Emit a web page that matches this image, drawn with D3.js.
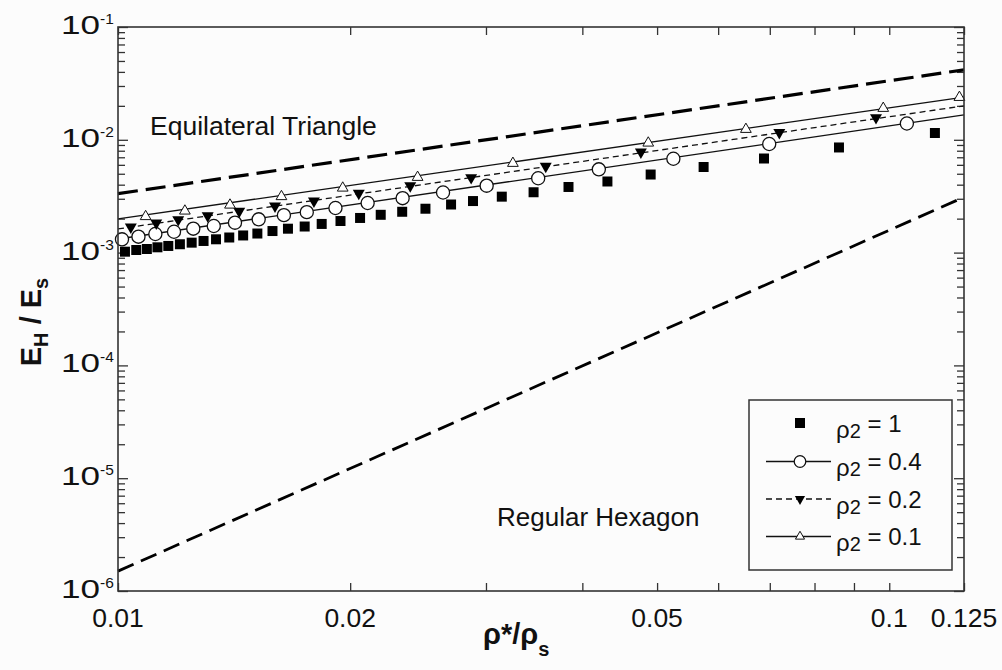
<!DOCTYPE html>
<html>
<head>
<meta charset="utf-8">
<script src="https://cdn.jsdelivr.net/npm/d3@7"></script>
<style>
body { margin: 0; background: #fcfcfc; }
svg { display: block; font-family: "Liberation Sans", Arial, sans-serif; }
</style>
</head>
<body>
<script>
// tick values and labels
var xTicks = [0.01, 0.02, 0.03, 0.04, 0.05, 0.06, 0.07, 0.08, 0.09, 0.1, 0.125],
xLabels = [0.01, 0.02, 0.05, 0.1, 0.125],
yDecades = [1e-6, 1e-5, 1e-4, 1e-3, 1e-2, 1e-1],
yExponents = ["-6", "-5", "-4", "-3", "-2", "-1"];

// bounding lines
var triX = [0.01, 0.125], triY = [0.00333, 0.0417];
var hexX = [0.01, 0.125], hexY = [1.5e-6, 0.0031];

// series lines
var line04X = [0.01, 0.125], line04Y = [0.00132, 0.0166];
var line02X = [0.01, 0.125], line02Y = [0.00162, 0.0200];
var line01X = [0.01, 0.125], line01Y = [0.00199, 0.0239];

// series markers
var rho1X = [0.01021,0.01056,0.01090,0.01125,0.01162,0.01203,0.01246,0.01291,0.01340,0.01394,0.01453,0.01516,0.01586,0.01661,0.01746,0.01837,0.01943,0.02060,0.02191,0.02336,0.02504,0.02703,0.02886,0.03145,0.03458,0.03838,0.04311,0.04905,0.05745,0.06880,0.08606,0.1146];
var rho1Y = [0.001019,0.001054,0.001076,0.001114,0.001145,0.001186,0.001225,0.001268,0.001312,0.001361,0.001419,0.001476,0.001553,0.001629,0.001703,0.001795,0.001905,0.002028,0.002163,0.002301,0.002449,0.002669,0.002864,0.003133,0.003428,0.003818,0.004270,0.004922,0.005738,0.006826,0.008551,0.01149];
var rho04X = [0.01012,0.01063,0.01118,0.01182,0.01252,0.01331,0.01418,0.01522,0.01641,0.01757,0.01914,0.02107,0.02339,0.02639,0.03006,0.03506,0.04202,0.05249,0.06988,0.1054];
var rho04Y = [0.001312,0.001384,0.001462,0.001531,0.001629,0.001722,0.001841,0.001973,0.002148,0.002283,0.002485,0.002754,0.003036,0.003409,0.003917,0.004560,0.005476,0.006790,0.009183,0.01395];
var rho02X = [0.01039,0.01121,0.01197,0.01307,0.01436,0.01598,0.01795,0.02052,0.02393,0.02870,0.03586,0.04764,0.07202,0.09612];
var rho02Y = [0.001686,0.001829,0.001959,0.002120,0.002323,0.002590,0.002866,0.003356,0.003908,0.004613,0.005821,0.007798,0.01161,0.01570];
var rho01X = [0.01086,0.01221,0.01397,0.01629,0.01956,0.02446,0.03251,0.04870,0.06518,0.09822,0.1233];
var rho01Y = [0.002089,0.002339,0.002642,0.003141,0.003739,0.004653,0.006194,0.009372,0.01239,0.01903,0.02380];

var legendLabels = ["1", "0.4", "0.2", "0.1"];

var margin = {top: 27, right: 38, bottom: 79, left: 118},
width = 1002 - margin.left - margin.right,
height = 670 - margin.top - margin.bottom;

var xScale = d3.scaleLog().domain([0.01, 0.125]).range([0, width]);
var yScale = d3.scaleLog().domain([1e-6, 1e-1]).range([height, 0]);

var svg = d3.select("body").append("svg")
    .attr("width", 1002)
    .attr("height", 670);

var g = svg.append("g")
    .attr("transform", "translate(" + margin.left + "," + margin.top + ")");

function zip(xs, ys) { return xs.map(function(d, i) { return [d, ys[i]]; }); }

var line = d3.line()
    .x(function(d) { return xScale(d[0]); })
    .y(function(d) { return yScale(d[1]); });

// axes with inward ticks
var yMinor = yScale.ticks().filter(function(d) { return yDecades.indexOf(d) < 0; });

function styleAxis(sel) {
    sel.select(".domain").remove();
    sel.selectAll("line").attr("stroke", "#333").attr("stroke-width", 1.3);
    sel.selectAll("text").remove();
}

g.append("g").attr("transform", "translate(0," + height + ")")
    .call(d3.axisBottom(xScale).tickValues(xTicks).tickSize(-8)).call(styleAxis);
g.append("g")
    .call(d3.axisTop(xScale).tickValues(xTicks).tickSize(-8)).call(styleAxis);
g.append("g")
    .call(d3.axisLeft(yScale).tickValues(yDecades).tickSize(-10)).call(styleAxis);
g.append("g")
    .call(d3.axisLeft(yScale).tickValues(yMinor).tickSize(-7)).call(styleAxis);
g.append("g").attr("transform", "translate(" + width + ",0)")
    .call(d3.axisRight(yScale).tickValues(yDecades).tickSize(-10)).call(styleAxis);
g.append("g").attr("transform", "translate(" + width + ",0)")
    .call(d3.axisRight(yScale).tickValues(yMinor).tickSize(-7)).call(styleAxis);

// x tick labels
g.selectAll(".xlab").data(xLabels).enter().append("text")
    .attr("x", function(d) { return xScale(d); })
    .attr("y", height + 36)
    .attr("text-anchor", "middle")
    .attr("font-size", 26.5)
    .attr("fill", "#111")
    .text(function(d) { return d; });

// y tick labels
var ylab = g.selectAll(".ylab").data(yDecades).enter().append("g")
    .attr("transform", function(d) { return "translate(-18," + yScale(d) + ")"; });
ylab.append("text")
    .attr("transform", "translate(0,7) scale(1.35,1)")
    .attr("text-anchor", "end")
    .attr("font-size", 26)
    .attr("fill", "#111")
    .text("10");
ylab.append("text")
    .attr("x", 0)
    .attr("y", -3)
    .attr("font-size", 15.5)
    .attr("fill", "#111")
    .text(function(d, i) { return yExponents[i]; });

// bounding lines
g.append("path").datum(zip(triX, triY))
    .attr("d", line).attr("fill", "none")
    .attr("stroke", "#000").attr("stroke-width", 3.2)
    .attr("stroke-dasharray", "20,8");
g.append("path").datum(zip(hexX, hexY))
    .attr("d", line).attr("fill", "none")
    .attr("stroke", "#000").attr("stroke-width", 2.8)
    .attr("stroke-dasharray", "17,8");

// series lines
g.append("path").datum(zip(line04X, line04Y))
    .attr("d", line).attr("fill", "none").attr("stroke", "#111").attr("stroke-width", 1.3);
g.append("path").datum(zip(line02X, line02Y))
    .attr("d", line).attr("fill", "none").attr("stroke", "#111").attr("stroke-width", 1.3)
    .attr("stroke-dasharray", "6,4");
g.append("path").datum(zip(line01X, line01Y))
    .attr("d", line).attr("fill", "none").attr("stroke", "#111").attr("stroke-width", 1.3);

// markers
var square = d3.symbol().type(d3.symbolSquare).size(100),
circle = d3.symbol().type(d3.symbolCircle).size(135),
triDown = d3.symbol().type(d3.symbolTriangle).size(62),
triUp = d3.symbol().type(d3.symbolTriangle).size(50);

g.selectAll(".sq").data(zip(rho1X, rho1Y)).enter().append("path")
    .attr("d", square)
    .attr("transform", function(d) { return "translate(" + xScale(d[0]) + "," + yScale(d[1]) + ")"; })
    .attr("fill", "#000");
g.selectAll(".ci").data(zip(rho04X, rho04Y)).enter().append("path")
    .attr("d", circle)
    .attr("transform", function(d) { return "translate(" + xScale(d[0]) + "," + yScale(d[1]) + ")"; })
    .attr("fill", "#fff").attr("stroke", "#111").attr("stroke-width", 1.3);
g.selectAll(".td").data(zip(rho02X, rho02Y)).enter().append("path")
    .attr("d", triDown)
    .attr("transform", function(d) { return "translate(" + xScale(d[0]) + "," + yScale(d[1]) + ") rotate(180)"; })
    .attr("fill", "#000");
g.selectAll(".tu").data(zip(rho01X, rho01Y)).enter().append("path")
    .attr("d", triUp)
    .attr("transform", function(d) { return "translate(" + xScale(d[0]) + "," + yScale(d[1]) + ")"; })
    .attr("fill", "#fff").attr("stroke", "#111").attr("stroke-width", 1);

// frame
g.append("rect")
    .attr("width", width).attr("height", height)
    .attr("fill", "none").attr("stroke", "#333").attr("stroke-width", 1.6);

// annotations
g.append("text").attr("x", 32).attr("y", 108)
    .attr("font-size", 26.5).attr("fill", "#111").text("Equilateral Triangle");
g.append("text").attr("x", 379).attr("y", 499)
    .attr("font-size", 26).attr("fill", "#111").text("Regular Hexagon");

// axis titles
var xt = svg.append("text")
    .attr("x", 483).attr("y", 644)
    .attr("font-size", 29).attr("font-weight", "bold").attr("fill", "#111");
xt.append("tspan").text("ρ*/ρ");
xt.append("tspan").attr("font-size", 20).attr("dy", 12).text("s");

var yt = svg.append("text")
    .attr("transform", "translate(41,322) rotate(-90)")
    .attr("text-anchor", "middle")
    .attr("font-size", 29).attr("font-weight", "bold").attr("fill", "#111");
yt.append("tspan").text("E");
yt.append("tspan").attr("font-size", 20).attr("dy", 7).text("H");
yt.append("tspan").attr("dy", -7).text(" / E");
yt.append("tspan").attr("font-size", 20).attr("dy", 7).text("s");

// legend
var lg = svg.append("g");
lg.append("rect")
    .attr("x", 749).attr("y", 400).attr("width", 203).attr("height", 170)
    .attr("fill", "#fcfcfc").attr("stroke", "#333").attr("stroke-width", 1.5);

var rowY = [423, 461.5, 499, 536.5];
var lgSquare = d3.symbol().type(d3.symbolSquare).size(100),
lgCircle = d3.symbol().type(d3.symbolCircle).size(105),
lgTriDown = d3.symbol().type(d3.symbolTriangle).size(45),
lgTriUp = d3.symbol().type(d3.symbolTriangle).size(36);

lg.append("path").attr("d", lgSquare).attr("transform", "translate(800," + rowY[0] + ")").attr("fill", "#000");

lg.append("line").attr("x1", 766).attr("x2", 831).attr("y1", rowY[1]).attr("y2", rowY[1])
    .attr("stroke", "#111").attr("stroke-width", 1.3);
lg.append("path").attr("d", lgCircle).attr("transform", "translate(800," + rowY[1] + ")")
    .attr("fill", "#fff").attr("stroke", "#111").attr("stroke-width", 1.3);

lg.append("line").attr("x1", 766).attr("x2", 831).attr("y1", rowY[2]).attr("y2", rowY[2])
    .attr("stroke", "#111").attr("stroke-width", 1.3).attr("stroke-dasharray", "6,4");
lg.append("path").attr("d", lgTriDown).attr("transform", "translate(800," + rowY[2] + ") rotate(180)")
    .attr("fill", "#000");

lg.append("line").attr("x1", 766).attr("x2", 831).attr("y1", rowY[3]).attr("y2", rowY[3])
    .attr("stroke", "#111").attr("stroke-width", 1.3);
lg.append("path").attr("d", lgTriUp).attr("transform", "translate(800," + rowY[3] + ")")
    .attr("fill", "#fff").attr("stroke", "#111").attr("stroke-width", 1);

rowY.forEach(function(y, i) {
    var t = lg.append("text").attr("x", 836).attr("y", y + 8.5)
        .attr("font-size", 24).attr("fill", "#111");
    t.append("tspan").attr("dy", 6).text("ρ");
    t.append("tspan").attr("font-size", 20).text("2");
    t.append("tspan").attr("dy", -6).text(" = " + legendLabels[i]);
});
</script>
</body>
</html>
